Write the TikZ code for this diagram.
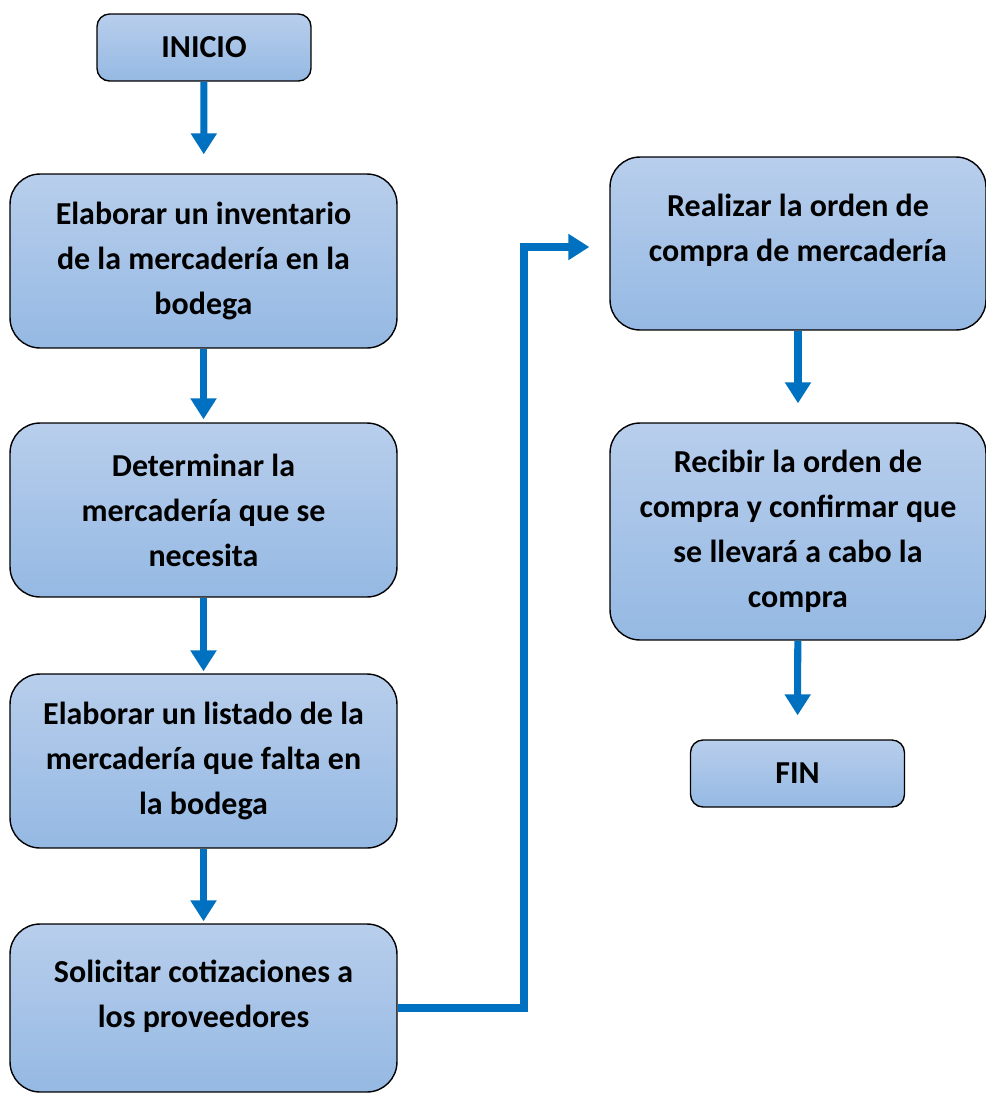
\documentclass[tikz,border=0pt]{standalone}
\usepackage{fontspec}
\setmainfont{Carlito}
\usepackage{tikz}
\usetikzlibrary{arrows.meta, calc}

\definecolor{boxtop}{RGB}{184,206,236}
\definecolor{boxbot}{RGB}{149,185,227}
\definecolor{flecha}{RGB}{0,112,192}

\begin{document}
\begin{tikzpicture}[x=0.02cm, y=-0.02cm,
  every node/.style={font=\fontsize{18.2}{25.6}\selectfont\bfseries, align=flush center},
  stepbox/.style={draw=black, line width=0.8pt, rounded corners=0.6cm, top color=boxtop, bottom color=boxbot, minimum width=7.74cm, minimum height=3.48cm, text width=7cm},
  endbox/.style={draw=black, line width=0.8pt, rounded corners=0.25cm, top color=boxtop, bottom color=boxbot, minimum width=4.28cm, minimum height=1.34cm},
  arr/.style={draw=flecha, line width=4pt, -{Triangle[length=0.42cm, width=0.5cm]}}]
\useasboundingbox (0,0) rectangle (986,1093);

\node(inicio)[endbox] at (204,47.5) {INICIO};

\node(inventario)[stepbox] at (203.5,261) {Elaborar un inventario\\ de la mercadería en la\\ bodega};
\node(determinar)[stepbox] at (203.5,510) {Determinar la\\ mercadería que se\\ necesita};
\node(listado)[stepbox] at (203.5,761) {Elaborar un listado de la\\ mercadería que falta en\\ la bodega};
\node(solicitar)[stepbox, minimum height=3.36cm,
  label={[yshift=0.24cm]center:Solicitar cotizaciones a\\ los proveedores}] at (203.5,1008) {};

\node(orden)[stepbox, minimum width=7.52cm, minimum height=3.46cm,
  label={[yshift=0.26cm]center:Realizar la orden de\\ compra de mercadería}] at (798,243.5) {};
\node(recibir)[stepbox, minimum width=7.52cm, minimum height=4.34cm] at (798,531.5) {Recibir la orden de\\ compra y confirmar que\\ se llevará a cabo la\\ compra};
\node(fin)[endbox] at (797.5,773.5) {FIN};

\coordinate (bend) at (524,247);

\draw[arr, shorten >=0.38cm] (inicio) -- (inventario);
\draw[arr, shorten >=0.06cm] (inventario) -- (determinar);
\draw[arr, shorten >=0.04cm] (determinar) -- (listado);
\draw[arr, shorten >=0.04cm] (listado) -- (solicitar);
\draw[arr, shorten >=0.4cm] (solicitar.east) -| (bend) -- (bend -| orden.west);
\draw[arr, shorten >=0.38cm] (orden) -- (recibir);
\draw[arr, shorten >=0.48cm] (recibir) -- (fin);
\end{tikzpicture}
\end{document}
